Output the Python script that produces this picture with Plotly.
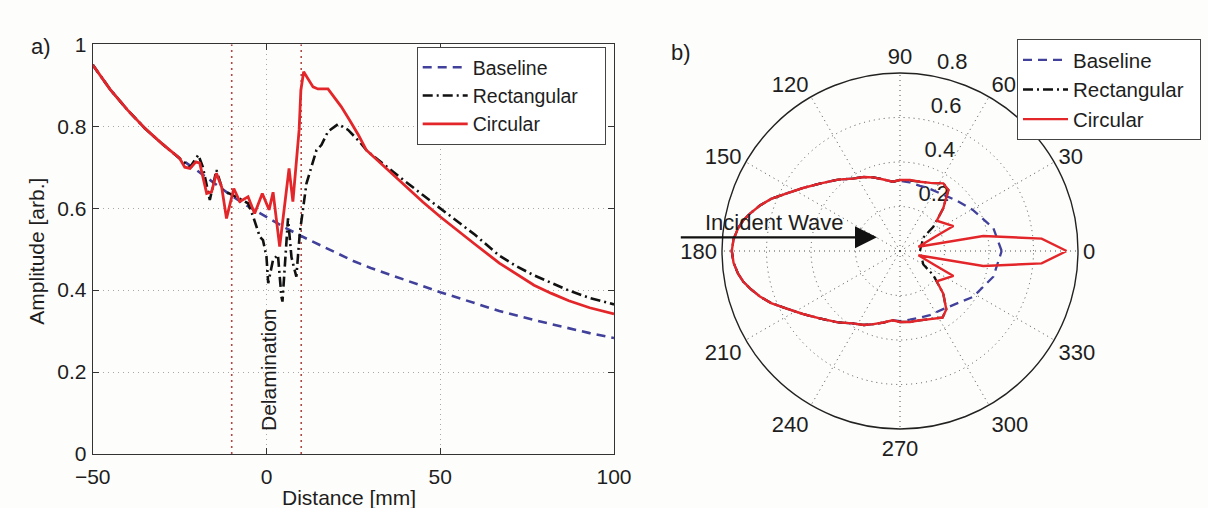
import plotly.graph_objects as go

# ---------------- a) amplitude along the scan line ----------------
circ_x = [-50, -45, -40, -35, -30, -27.8, -25, -23.5, -22, -20.3, -19.2, -17.2, -15.8, -14.4,
          -12.9, -11.5, -9.4, -7.7, -5.3, -3.4, -1.2, 0.75, 1.9, 3.8, 6.5, 7.6, 9.4, 9.9,
          10.7, 13.4, 14.8, 17.7, 19.1, 21.5, 23.9, 26.5, 28.7, 30, 35, 40, 45, 50, 55, 60,
          67, 72, 77, 82, 87, 93, 100]
circ_y = [0.95, 0.89, 0.84, 0.795, 0.757, 0.742, 0.722, 0.70, 0.697, 0.713, 0.71, 0.636, 0.64,
          0.685, 0.652, 0.575, 0.648, 0.616, 0.628, 0.587, 0.636, 0.596, 0.639, 0.506, 0.697,
          0.616, 0.791, 0.888, 0.933, 0.896, 0.891, 0.891, 0.876, 0.848, 0.815, 0.778, 0.742,
          0.732, 0.692, 0.653, 0.615, 0.579, 0.545, 0.512, 0.466, 0.438, 0.412, 0.392, 0.374,
          0.357, 0.342]

rect_x = [-50, -45, -40, -35, -30, -25, -22, -19.6, -18.3, -16.3, -14.4, -12.6, -9.6, -7,
          -5.3, -3.8, -1.9, -1.0, 0, 0.5, 1.9, 3.3, 4.3, 4.6, 6.2, 7.2, 8.1, 8.6, 9.6, 11.5,
          14.4, 15.8, 17.7, 20.6, 23.5, 26.8, 28.9, 35, 40, 45, 50, 55, 60, 67, 72, 77, 82,
          87, 93, 100]
rect_y = [0.95, 0.89, 0.84, 0.795, 0.757, 0.722, 0.70, 0.73, 0.70, 0.62, 0.693, 0.644, 0.632,
          0.62, 0.612, 0.579, 0.53, 0.522, 0.482, 0.417, 0.474, 0.486, 0.384, 0.372, 0.575,
          0.48, 0.449, 0.433, 0.54, 0.66, 0.742, 0.754, 0.787, 0.805, 0.791, 0.762, 0.74,
          0.70, 0.665, 0.632, 0.60, 0.568, 0.535, 0.484, 0.458, 0.436, 0.418, 0.399, 0.381,
          0.365]

base_x = [-50, -45, -40, -35, -30, -25, -20, -15, -10, -5, 0, 5, 10, 15, 20, 25, 30, 40, 50,
          60, 67, 77, 86, 93, 100]
base_y = [0.95, 0.89, 0.84, 0.795, 0.757, 0.722, 0.692, 0.66, 0.63, 0.603, 0.578, 0.554,
          0.532, 0.511, 0.49, 0.471, 0.454, 0.424, 0.395, 0.368, 0.349, 0.327, 0.308, 0.295,
          0.283]

delam_edges = [-10, 10]
x_ticks = [-50, 0, 50, 100]
y_ticks = [0, 0.2, 0.4, 0.6, 0.8, 1]

# ---------------- b) angular scattering pattern ----------------
circ_theta = [0, 5, 10.2, 13, 22, 25, 39.5, 44.6, 51.6, 57.4, 66, 74, 82, 90, 96, 103, 110,
              116, 123, 131, 140, 147, 153, 158, 162, 166, 169, 172, 176, 180,
              184, 188, 191, 194, 198, 202, 207, 213, 220, 229, 237, 244, 250, 257, 264,
              270, 278, 286, 294, 302.6, 308.4, 315.4, 320.5, 335, 338, 347, 349.8, 355, 360]
circ_r = [0.749, 0.639, 0.38, 0.085, 0.17, 0.265, 0.214, 0.273, 0.35, 0.361, 0.335, 0.324,
          0.322, 0.319, 0.313, 0.33, 0.352, 0.37, 0.388, 0.425, 0.471, 0.52, 0.571, 0.625,
          0.662, 0.695, 0.718, 0.735, 0.75, 0.756,
          0.75, 0.735, 0.718, 0.695, 0.662, 0.625, 0.571, 0.52, 0.471, 0.425, 0.388, 0.37,
          0.35, 0.33, 0.313, 0.319, 0.322, 0.324, 0.335, 0.355, 0.335, 0.273, 0.214, 0.265,
          0.17, 0.085, 0.38, 0.639, 0.749]

rect_theta = [0, 10, 20, 30, 36, 44.6, 51.6, 57.4, 66, 74, 84.6, 90, 96, 103, 110, 116, 123,
              131, 140, 147, 153, 158, 162, 166, 169, 172, 176, 180, 184, 188, 191, 194, 198,
              202, 207, 213, 220, 229, 237, 244, 250, 257, 264, 270, 278, 286, 294, 302.6,
              308.4, 315.4, 324, 330, 340, 350, 360]
rect_r = [0.09, 0.095, 0.105, 0.121, 0.185, 0.273, 0.35, 0.361, 0.335, 0.324, 0.32, 0.319,
          0.313, 0.33, 0.352, 0.37, 0.388, 0.425, 0.471, 0.52, 0.571, 0.625, 0.662, 0.695,
          0.718, 0.735, 0.75, 0.756, 0.75, 0.735, 0.718, 0.695, 0.662, 0.625, 0.571, 0.52,
          0.471, 0.425, 0.388, 0.37, 0.35, 0.33, 0.313, 0.319, 0.322, 0.324, 0.335, 0.355,
          0.335, 0.273, 0.185, 0.121, 0.105, 0.095, 0.09]

base_theta = [0, 13.7, 29, 42, 55, 66, 73, 82, 90, 96, 103, 110, 116, 123, 131, 140, 147, 153,
              158, 162, 166, 169, 172, 176, 180, 184, 188, 191, 194, 198, 202, 207, 213, 220,
              229, 237, 244, 250, 257, 264, 270, 278, 284, 295, 307, 328, 344.6, 360]
base_r = [0.457, 0.432, 0.377, 0.34, 0.316, 0.31, 0.306, 0.312, 0.315, 0.313, 0.33, 0.352,
          0.37, 0.388, 0.425, 0.471, 0.52, 0.571, 0.625, 0.662, 0.695, 0.718, 0.735, 0.75,
          0.756, 0.75, 0.735, 0.718, 0.695, 0.662, 0.625, 0.571, 0.52, 0.471, 0.425, 0.388,
          0.37, 0.35, 0.33, 0.313, 0.315, 0.312, 0.312, 0.318, 0.326, 0.388, 0.435, 0.457]

radial_ticks = [0.2, 0.4, 0.6, 0.8]
radial_label_angle = 82
angle_ticks = list(range(0, 360, 30))

series_names = ["Baseline", "Rectangular", "Circular"]

# ---------------- styling ----------------
W, H = 1208, 508
BG = "#fdfdfb"
BLUE = "#41419c"
BLACK = "#111111"
RED = "#e3262a"
FONT = "Liberation Sans"
TXT = "#1e1e1e"
GRID = "#a8a8a8"
PGRID = "#505050"
NB = "\u00a0"


def px(v):
    return v / W


def py(v):
    return 1 - v / H


fig = go.Figure()

# a) line traces
fig.add_trace(go.Scatter(x=base_x, y=base_y, name=series_names[0], mode="lines",
                         line=dict(color=BLUE, width=2.6, dash="9px,6px"),
                         xaxis="x", yaxis="y", legend="legend"))
fig.add_trace(go.Scatter(x=rect_x, y=rect_y, name=series_names[1] + NB * 4, mode="lines",
                         line=dict(color=BLACK, width=2.6, dash="10px,4px,2px,4px"),
                         xaxis="x", yaxis="y", legend="legend"))
fig.add_trace(go.Scatter(x=circ_x, y=circ_y, name=series_names[2], mode="lines",
                         line=dict(color=RED, width=2.8),
                         xaxis="x", yaxis="y", legend="legend"))

# b) radial tick labels placed along a spoke
fig.add_trace(go.Scatterpolar(r=radial_ticks, theta=[radial_label_angle] * len(radial_ticks),
                              mode="text",
                              text=[NB * 2 + f"{v:g}" for v in radial_ticks],
                              textposition="top right", cliponaxis=False,
                              textfont=dict(family=FONT, size=22, color=TXT),
                              showlegend=False, hoverinfo="skip", subplot="polar"))
fig.add_trace(go.Scatterpolar(r=base_r, theta=base_theta, name=series_names[0], mode="lines",
                              line=dict(color=BLUE, width=2.3, dash="9px,6px"),
                              subplot="polar", legend="legend2"))
fig.add_trace(go.Scatterpolar(r=rect_r, theta=rect_theta, name=series_names[1] + NB * 2,
                              mode="lines",
                              line=dict(color=BLACK, width=2.3, dash="10px,4px,2px,4px"),
                              subplot="polar", legend="legend2"))
fig.add_trace(go.Scatterpolar(r=circ_r, theta=circ_theta, name=series_names[2], mode="lines",
                              line=dict(color=RED, width=2.4),
                              subplot="polar", legend="legend2"))

# delamination boundaries
shapes = [dict(type="line", xref="x", yref="y", x0=e, x1=e, y0=0, y1=1,
               line=dict(color="#b04848", width=1.6, dash="2px,4px"), layer="below")
          for e in delam_edges]

tick_font = dict(family=FONT, size=21, color=TXT)
legend_common = dict(xanchor="left", yanchor="top", bgcolor="white", bordercolor="#444",
                     borderwidth=1, itemwidth=45, traceorder="normal", tracegroupgap=0)


def label(text, x, y, size=21, **kw):
    return dict(text=text, x=x, y=y, xref=kw.pop("xref", "paper"), yref=kw.pop("yref", "paper"),
                xanchor=kw.pop("xanchor", "center"), yanchor="middle", showarrow=False,
                font=dict(family=FONT, size=size, color=TXT), **kw)


arrow_len = 877 - 679.3

fig.update_layout(
    template="none",
    width=W, height=H, autosize=False,
    margin=dict(l=0, r=0, t=0, b=0, pad=0),
    paper_bgcolor=BG, plot_bgcolor=BG,
    font=dict(family=FONT, color=TXT),
    shapes=shapes,
    xaxis=dict(domain=[px(92.7), px(614)], range=[-50, 100], tickvals=x_ticks,
               ticks="inside", ticklen=6, tickcolor="#333", showline=True, mirror="ticks",
               linecolor="#333", linewidth=1, showgrid=True, gridcolor=GRID,
               griddash="1px,4px", gridwidth=1, zeroline=False, tickfont=tick_font,
               ticklabelstandoff=4, anchor="y", automargin=False),
    yaxis=dict(domain=[py(454), py(44.3)], range=[0, 1], tickvals=y_ticks,
               ticks="inside", ticklen=6, tickcolor="#333", showline=True, mirror="ticks",
               linecolor="#333", linewidth=1, showgrid=True, gridcolor=GRID,
               griddash="1px,4px", gridwidth=1, zeroline=False, tickfont=tick_font,
               ticklabelstandoff=1, anchor="x", automargin=False),
    polar=dict(
        domain=dict(x=[px(722), px(1078)], y=[py(429), py(73)]),
        bgcolor="rgba(0,0,0,0)",
        angularaxis=dict(rotation=0, direction="counterclockwise", tickvals=angle_ticks,
                         ticktext=[str(a) for a in angle_ticks], ticks="", showline=True,
                         linecolor="#222", linewidth=1.4, showgrid=True, gridcolor=PGRID,
                         griddash="1px,4px", gridwidth=1,
                         tickfont=dict(family=FONT, size=22, color=TXT)),
        radialaxis=dict(range=[0, 0.8], tickvals=radial_ticks, showticklabels=False,
                        ticks="", showline=False, showgrid=True, gridcolor=PGRID,
                        griddash="1px,4px", gridwidth=1),
    ),
    legend=dict(x=px(416.7), y=py(47), font=dict(family=FONT, size=19.5, color=TXT),
                **legend_common),
    legend2=dict(x=px(1017), y=py(39), font=dict(family=FONT, size=20.5, color=TXT),
                 **legend_common),
    annotations=[
        label("a)", px(41), py(46), size=22),
        label("b)", px(681), py(52), size=22),
        label("Amplitude [arb.]", px(37), py(251.7), textangle=-90),
        label("Distance [mm]", px(349), py(497)),
        label("Delamination", 0.45, 0.205, xref="x", yref="y", textangle=-90),
        label("Incident Wave", px(703), py(222.7), size=22, xanchor="left"),
        dict(text="", x=px(877), y=py(237.3), ax=-arrow_len, ay=0,
             xref="paper", yref="paper", axref="pixel", ayref="pixel", showarrow=True,
             arrowhead=2, arrowsize=2.0, arrowwidth=2.2, arrowcolor="#111"),
    ],
)

fig.write_html("out.html")
